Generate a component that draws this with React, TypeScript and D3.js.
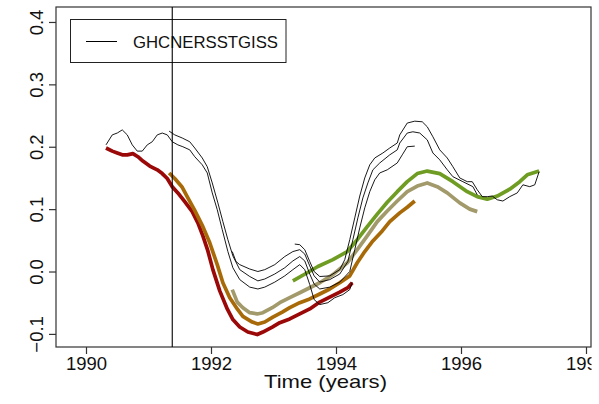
import React, { useEffect, useRef } from 'react';
import * as d3 from 'd3';

// thin black lines, one per 4-year window
const black1: [number, number][] = [
  [1990.32, 0.203], [1990.42, 0.219], [1990.50, 0.222], [1990.58, 0.227], [1990.66, 0.219],
  [1990.74, 0.203], [1990.82, 0.193], [1990.90, 0.193], [1990.98, 0.203], [1991.06, 0.208],
  [1991.14, 0.219], [1991.22, 0.222], [1991.30, 0.219], [1991.38, 0.208], [1991.47, 0.203],
  [1991.55, 0.200], [1991.66, 0.195], [1991.74, 0.184], [1991.86, 0.171], [1991.94, 0.158],
  [1992.02, 0.126], [1992.10, 0.099], [1992.18, 0.067], [1992.27, 0.032], [1992.35, 0.006],
  [1992.46, -0.013], [1992.62, -0.025], [1992.75, -0.028], [1992.86, -0.025], [1993.02, -0.017],
  [1993.18, -0.007], [1993.31, 0.003], [1993.42, 0.011], [1993.50, 0.003], [1993.58, -0.021],
  [1993.65, -0.045], [1993.74, -0.053], [1993.87, -0.050], [1993.98, -0.042], [1994.11, -0.037],
  [1994.22, -0.029], [1994.26, -0.017]
];
const black2: [number, number][] = [
  [1991.33, 0.225], [1991.42, 0.219], [1991.54, 0.214], [1991.66, 0.208], [1991.74, 0.198],
  [1991.86, 0.182], [1991.94, 0.168], [1992.02, 0.142], [1992.11, 0.110], [1992.19, 0.080],
  [1992.27, 0.051], [1992.35, 0.025], [1992.46, 0.003], [1992.62, -0.008], [1992.75, -0.015],
  [1992.86, -0.012], [1993.02, -0.004], [1993.18, 0.006], [1993.31, 0.017], [1993.42, 0.024],
  [1993.50, 0.017], [1993.58, -0.004], [1993.65, -0.020], [1993.74, -0.028], [1993.90, -0.025],
  [1994.06, -0.017], [1994.22, 0.000], [1994.30, 0.035], [1994.38, 0.070], [1994.46, 0.102],
  [1994.54, 0.128], [1994.62, 0.147], [1994.70, 0.158], [1994.82, 0.163], [1994.98, 0.174],
  [1995.06, 0.187], [1995.14, 0.200], [1995.26, 0.201]
];
const black3: [number, number][] = [
  [1992.34, 0.032], [1992.40, 0.016], [1992.46, 0.011], [1992.62, 0.004], [1992.75, 0.000],
  [1992.86, 0.003], [1993.02, 0.011], [1993.18, 0.024], [1993.31, 0.032], [1993.42, 0.035],
  [1993.50, 0.028], [1993.58, 0.009], [1993.65, -0.007], [1993.74, -0.017], [1993.90, -0.013],
  [1994.06, -0.004], [1994.19, 0.016], [1994.27, 0.051], [1994.35, 0.086], [1994.43, 0.118],
  [1994.51, 0.142], [1994.59, 0.163], [1994.70, 0.174], [1994.86, 0.187], [1994.98, 0.195],
  [1995.02, 0.206], [1995.14, 0.222], [1995.23, 0.224], [1995.34, 0.222], [1995.46, 0.211],
  [1995.55, 0.190], [1995.66, 0.179], [1995.78, 0.163], [1995.87, 0.152], [1996.03, 0.144],
  [1996.19, 0.136], [1996.26, 0.123]
];
const black4: [number, number][] = [
  [1993.34, 0.044], [1993.42, 0.043], [1993.50, 0.035], [1993.58, 0.016], [1993.65, 0.000],
  [1993.74, -0.008], [1993.90, -0.007], [1994.06, 0.003], [1994.14, 0.019], [1994.22, 0.051],
  [1994.30, 0.086], [1994.38, 0.121], [1994.46, 0.150], [1994.54, 0.171], [1994.62, 0.182],
  [1994.75, 0.190], [1994.86, 0.198], [1994.98, 0.206], [1995.02, 0.219], [1995.14, 0.238],
  [1995.26, 0.241], [1995.38, 0.240], [1995.46, 0.232], [1995.55, 0.216], [1995.66, 0.195],
  [1995.78, 0.182], [1995.87, 0.168], [1995.98, 0.150], [1996.10, 0.144], [1996.18, 0.144],
  [1996.26, 0.131], [1996.34, 0.120], [1996.42, 0.120], [1996.50, 0.121], [1996.58, 0.115],
  [1996.67, 0.113], [1996.78, 0.120], [1996.90, 0.126], [1996.99, 0.139], [1997.10, 0.136],
  [1997.18, 0.139], [1997.25, 0.160]
];

// thick coloured lines
const redLine: [number, number][] = [
  [1990.32, 0.198], [1990.42, 0.193], [1990.50, 0.190], [1990.58, 0.187], [1990.66, 0.187],
  [1990.75, 0.189], [1990.83, 0.184], [1990.91, 0.177], [1991.02, 0.169], [1991.14, 0.163],
  [1991.22, 0.157], [1991.30, 0.149], [1991.38, 0.136], [1991.47, 0.126], [1991.58, 0.112],
  [1991.70, 0.096], [1991.79, 0.078], [1991.87, 0.057], [1991.95, 0.033], [1992.03, 0.003],
  [1992.14, -0.031], [1992.26, -0.060], [1992.35, -0.077], [1992.46, -0.089], [1992.59, -0.097],
  [1992.74, -0.101], [1992.83, -0.097], [1992.98, -0.089], [1993.10, -0.082], [1993.26, -0.076],
  [1993.42, -0.068], [1993.58, -0.060], [1993.74, -0.049], [1993.90, -0.041], [1994.06, -0.033],
  [1994.19, -0.026], [1994.26, -0.018]
];
const brownLine: [number, number][] = [
  [1991.33, 0.158], [1991.42, 0.149], [1991.54, 0.135], [1991.63, 0.118], [1991.74, 0.098],
  [1991.86, 0.074], [1991.98, 0.046], [1992.10, 0.011], [1992.19, -0.018], [1992.30, -0.042],
  [1992.42, -0.060], [1992.51, -0.072], [1992.66, -0.081], [1992.75, -0.084], [1992.86, -0.081],
  [1992.99, -0.073], [1993.14, -0.065], [1993.26, -0.058], [1993.42, -0.050], [1993.58, -0.044],
  [1993.74, -0.036], [1993.90, -0.028], [1994.06, -0.018], [1994.22, -0.007], [1994.34, 0.014],
  [1994.46, 0.032], [1994.59, 0.049], [1994.74, 0.065], [1994.86, 0.080], [1995.02, 0.094],
  [1995.14, 0.103], [1995.26, 0.113]
];
const khakiLine: [number, number][] = [
  [1992.34, -0.029], [1992.42, -0.049], [1992.51, -0.058], [1992.62, -0.066], [1992.74, -0.068],
  [1992.83, -0.066], [1992.98, -0.058], [1993.10, -0.050], [1993.26, -0.042], [1993.42, -0.034],
  [1993.58, -0.026], [1993.74, -0.018], [1993.95, -0.005], [1994.18, 0.014], [1994.34, 0.035],
  [1994.50, 0.057], [1994.66, 0.080], [1994.82, 0.097], [1994.98, 0.113], [1995.14, 0.128],
  [1995.30, 0.137], [1995.46, 0.142], [1995.62, 0.136], [1995.78, 0.126], [1995.98, 0.110],
  [1996.14, 0.100], [1996.26, 0.096]
];
const greenLine: [number, number][] = [
  [1993.31, -0.015], [1993.54, -0.002], [1993.71, 0.008], [1993.95, 0.019], [1994.18, 0.032],
  [1994.34, 0.051], [1994.50, 0.072], [1994.66, 0.092], [1994.82, 0.111], [1994.98, 0.128],
  [1995.14, 0.144], [1995.30, 0.157], [1995.46, 0.161], [1995.66, 0.157], [1995.87, 0.144],
  [1996.10, 0.128], [1996.26, 0.120], [1996.42, 0.116], [1996.58, 0.121], [1996.78, 0.132],
  [1996.94, 0.144], [1997.06, 0.155], [1997.25, 0.161]
];

const blackSeries = [black1, black2, black3, black4];
const colourSeries = [
  { data: redLine, color: '#9a0808' },
  { data: brownLine, color: '#a86a08' },
  { data: khakiLine, color: '#a39a6c' },
  { data: greenLine, color: '#6f9c22' }
];

const xTicks = [1990, 1992, 1994, 1996, 1998];
const yTicks = [-0.1, 0.0, 0.1, 0.2, 0.3, 0.4];
const legendLabel = 'GHCNERSSTGISS';
const xTitle = 'Time (years)';
const markerYear = 1991.38;

const FONT = '"Liberation Sans", Arial, Helvetica, sans-serif';

const App = () => {
  const svgRef = useRef<SVGSVGElement>(null);

  useEffect(() => {
    if (!svgRef.current) return;
    const svg = d3.select(svgRef.current);
    svg.selectAll('*').remove();

    const left = 56, right = 591, top = 7, bottom = 347;

    const x = d3.scaleLinear().domain([1989.52, 1998.08]).range([left, right]);
    const y = d3.scaleLinear().domain([-0.121, 0.424]).range([bottom, top]);

    // the device ends just right of the plot box
    svg.append('defs').append('clipPath').attr('id', 'dev-clip')
      .append('rect').attr('x', 0).attr('y', 0).attr('width', right + 0.5).attr('height', 404);

    const line = d3.line<[number, number]>()
      .x(d => x(d[0]))
      .y(d => y(d[1]));

    // coloured lines
    colourSeries.forEach(s => {
      svg.append('path')
        .attr('d', line(s.data))
        .attr('fill', 'none')
        .attr('stroke', s.color)
        .attr('stroke-width', 3.7)
        .attr('stroke-linejoin', 'round');
    });

    // thin black lines
    blackSeries.forEach(s => {
      svg.append('path')
        .attr('d', line(s))
        .attr('fill', 'none')
        .attr('stroke', '#000')
        .attr('stroke-width', 0.9);
    });

    // plot box
    svg.append('rect')
      .attr('x', left).attr('y', top)
      .attr('width', right - left).attr('height', bottom - top)
      .attr('fill', 'none')
      .attr('stroke', '#333')
      .attr('stroke-width', 1.2);

    // x axis
    const xAxis = svg.append('g')
      .attr('clip-path', 'url(#dev-clip)')
      .append('g')
      .attr('transform', `translate(0,${bottom})`)
      .call(d3.axisBottom(x).tickValues(xTicks).tickFormat(d3.format('d')).tickSize(7).tickPadding(3).tickSizeOuter(0));
    xAxis.select('.domain').remove();
    xAxis.selectAll('line').attr('stroke', '#333').attr('stroke-width', 1.2);
    xAxis.selectAll('text')
      .attr('fill', '#111')
      .style('font-family', FONT)
      .style('font-size', '18.5px');

    // y axis with rotated labels
    const yAxis = svg.append('g')
      .attr('transform', `translate(${left},0)`)
      .call(d3.axisLeft(y).tickValues(yTicks).tickFormat(d3.format('.1f')).tickSize(7).tickSizeOuter(0));
    yAxis.select('.domain').remove();
    yAxis.selectAll('line').attr('stroke', '#333').attr('stroke-width', 1.2);
    yAxis.selectAll('text')
      .attr('x', null)
      .attr('dy', null)
      .attr('transform', 'translate(-13,0) rotate(-90)')
      .attr('text-anchor', 'middle')
      .attr('fill', '#111')
      .style('font-family', FONT)
      .style('font-size', '18.5px')
      .text(d => d3.format('.1f')(d as number).replace('-', '\u2212'));

    // axis title
    svg.append('text')
      .attr('x', (left + right) / 2 + 2)
      .attr('y', 388)
      .attr('text-anchor', 'middle')
      .attr('fill', '#111')
      .attr('textLength', 123)
      .attr('lengthAdjust', 'spacingAndGlyphs')
      .style('font-family', FONT)
      .style('font-size', '18.5px')
      .text(xTitle);

    // legend
    svg.append('rect')
      .attr('x', 70.5).attr('y', 19.5)
      .attr('width', 215.5).attr('height', 43)
      .attr('fill', 'none')
      .attr('stroke', '#222')
      .attr('stroke-width', 1);
    svg.append('line')
      .attr('x1', 86).attr('x2', 117)
      .attr('y1', 41.5).attr('y2', 41.5)
      .attr('stroke', '#000')
      .attr('stroke-width', 1);
    svg.append('text')
      .attr('x', 133)
      .attr('y', 48)
      .attr('fill', '#111')
      .attr('textLength', 145)
      .attr('lengthAdjust', 'spacingAndGlyphs')
      .style('font-family', FONT)
      .style('font-size', '16.5px')
      .text(legendLabel);

    // vertical marker line
    svg.append('line')
      .attr('x1', x(markerYear)).attr('x2', x(markerYear))
      .attr('y1', top).attr('y2', bottom)
      .attr('stroke', '#000')
      .attr('stroke-width', 1.1);
  }, []);

  return (
    <svg
      ref={svgRef}
      width={599}
      height={404}
      style={{ position: 'absolute', left: 0, top: 0, background: '#fff' }}
    />
  );
};

export default App;
